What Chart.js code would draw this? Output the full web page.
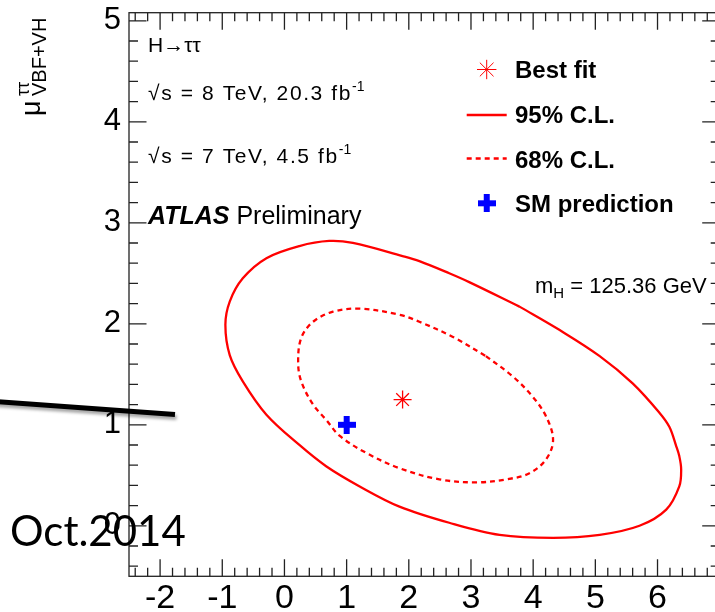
<!DOCTYPE html>
<html>
<head>
<meta charset="utf-8">
<script src="https://cdn.jsdelivr.net/npm/chart.js@4.4.1/dist/chart.umd.min.js"></script>
<style>
  html, body { margin: 0; padding: 0; background: #fff; overflow: hidden; }
  #wrap { position: relative; width: 715px; height: 612px; overflow: hidden; }
  #plot { position: absolute; left: 0; top: 0; }
  #pen { position: absolute; left: 0; top: 0; }
  #stamp { position: absolute; left: 10px; top: 509px; font-family: Lato, "Open Sans", sans-serif;
           font-size: 42px; line-height: 1; color: #000; white-space: nowrap; }
</style>
</head>
<body>
<div id="wrap">
  <canvas id="plot" width="730" height="612"></canvas>
  <svg id="pen" width="715" height="612">
    <defs>
      <filter id="soft" x="-10%" y="-200%" width="120%" height="500%">
        <feDropShadow dx="1.5" dy="3" stdDeviation="1.8" flood-color="#000" flood-opacity="0.35"/>
      </filter>
    </defs>
    <line x1="-5" y1="401.5" x2="175" y2="414.5" stroke="#000" stroke-width="5" filter="url(#soft)"/>
  </svg>
  <div id="stamp">Oct.2014</div>
</div>
<script>
// mu(VBF+VH) vs mu(ggF+ttH) likelihood contours, H -> tau tau
const xTicks = [-2, -1, 0, 1, 2, 3, 4, 5, 6];
const yTicks = [0, 1, 2, 3, 4, 5];

// 95% C.L. contour (closed loop)
const cl95X = [3.78, 4.42, 5.07, 5.60, 6.03, 6.19, 6.30, 6.35, 6.38, 6.35, 6.14, 5.71, 5.07, 4.32, 3.46, 2.65, 1.85, 1.21, 0.67, 0.24, -0.29, -0.67, -0.88, -0.95, -0.88, -0.67, -0.29, 0.24, 0.72, 1.10, 1.90, 2.17, 2.65, 2.98, 3.78];
const cl95Y = [2.17, 1.94, 1.68, 1.41, 1.12, 0.98, 0.79, 0.69, 0.56, 0.39, 0.16, 0.00, -0.09, -0.12, -0.09, 0.03, 0.19, 0.39, 0.59, 0.80, 1.10, 1.43, 1.69, 1.99, 2.22, 2.45, 2.65, 2.77, 2.82, 2.80, 2.67, 2.62, 2.50, 2.41, 2.17];

// 68% C.L. contour (closed loop)
const cl68X = [3.24, 3.67, 3.99, 4.21, 4.32, 4.21, 3.94, 3.57, 3.08, 2.49, 1.85, 1.32, 0.89, 0.67, 0.46, 0.27, 0.22, 0.27, 0.46, 0.78, 1.21, 1.85, 2.17, 2.71, 3.24];
const cl68Y = [1.68, 1.48, 1.28, 1.08, 0.85, 0.66, 0.52, 0.46, 0.43, 0.46, 0.57, 0.72, 0.89, 1.05, 1.20, 1.43, 1.62, 1.86, 2.02, 2.12, 2.15, 2.09, 2.02, 1.87, 1.68];

const bestFitX = [1.9];
const bestFitY = [1.25];
const smX = [1.0];
const smY = [1.0];

const pts = (xs, ys) => xs.map((v, i) => ({ x: v, y: ys[i] }));

const RED = '#ff0000';
const BLUE = '#0000ff';
const SANS = '"Liberation Sans", Arial, Helvetica, sans-serif';

// thick plus used as the SM marker
function makePlus(size, arm, color) {
  const c = document.createElement('canvas');
  c.width = size; c.height = size;
  const g = c.getContext('2d');
  g.fillStyle = color;
  const o = (size - arm) / 2;
  g.fillRect(o, 0, arm, size);
  g.fillRect(0, o, size, arm);
  return c;
}
const plusMark = makePlus(18, 6, BLUE);

// inside-pointing ticks on all four sides plus the frame
const framePlugin = {
  id: 'frame',
  afterDatasetsDraw(chart) {
    const { ctx, chartArea: a, scales: { x, y } } = chart;
    ctx.save();
    ctx.strokeStyle = '#222';
    ctx.lineWidth = 1.3;
    ctx.strokeRect(a.left, a.top, a.right - a.left, a.bottom - a.top);
    ctx.beginPath();
    for (let i = Math.ceil(x.min * 5); i <= Math.floor(x.max * 5); i++) {
      const p = x.getPixelForValue(i / 5);
      const len = (i % 5 === 0) ? 17 : 8.5;
      ctx.moveTo(p, a.bottom); ctx.lineTo(p, a.bottom - len);
      ctx.moveTo(p, a.top); ctx.lineTo(p, a.top + len);
    }
    for (let i = Math.ceil(y.min * 5); i <= Math.floor(y.max * 5); i++) {
      const p = y.getPixelForValue(i / 5);
      const len = (i % 5 === 0) ? 17.5 : 9;
      ctx.moveTo(a.left, p); ctx.lineTo(a.left + len, p);
      ctx.moveTo(a.right, p); ctx.lineTo(a.right - len, p);
    }
    ctx.stroke();
    ctx.restore();
  }
};

function rich(ctx, x, y, parts) {
  let cx = x;
  for (const [t, font, dy, sp] of parts) {
    ctx.font = font;
    ctx.letterSpacing = sp || '0px';
    ctx.fillText(t, cx, y + (dy || 0));
    cx += ctx.measureText(t).width;
  }
  ctx.letterSpacing = '0px';
}

// legend and labels
const textPlugin = {
  id: 'labels',
  afterDraw(chart) {
    const ctx = chart.ctx;
    ctx.save();
    ctx.fillStyle = '#000';
    ctx.textBaseline = 'alphabetic';
    ctx.textAlign = 'left';

    const f21 = '21px ' + SANS, f14 = '14px ' + SANS;
    rich(ctx, 148, 52, [['H\u2192\u03C4\u03C4', f21]]);
    rich(ctx, 148, 100, [['\u221As = 8 TeV, 20.3 fb', f21, 0, '1.6px'], ['-1', f14, -9]]);
    rich(ctx, 148, 163, [['\u221As = 7 TeV, 4.5 fb', f21, 0, '1.6px'], ['-1', f14, -9]]);
    rich(ctx, 148, 224, [['ATLAS', 'italic bold 25px ' + SANS], [' Preliminary', '25px ' + SANS]]);
    rich(ctx, 535, 293, [['m', '22px ' + SANS], ['H', '15px ' + SANS, 5], [' = 125.36 GeV', '22px ' + SANS]]);

    // legend
    const ds = chart.data.datasets;
    const rows = [
      { d: ds[0], mark: 69.5, base: 78.3 },
      { d: ds[1], mark: 115, base: 123.3 },
      { d: ds[2], mark: 158.5, base: 168.3 },
      { d: ds[3], mark: 203.3, base: 211.7 }
    ];
    const mx = 486.7;
    for (const r of rows) {
      const d = r.d;
      if (d.showLine) {
        ctx.save();
        ctx.strokeStyle = d.borderColor;
        ctx.lineWidth = d.borderWidth;
        ctx.setLineDash(d.borderDash || []);
        ctx.beginPath();
        ctx.moveTo(mx - 20, r.mark); ctx.lineTo(mx + 20, r.mark);
        ctx.stroke();
        ctx.restore();
      } else {
        ctx.strokeStyle = d.borderColor;
        ctx.fillStyle = d.backgroundColor;
        Chart.helpers.drawPoint(ctx, {
          pointStyle: d.pointStyle, radius: d.pointRadius + 0.7, rotation: 0,
          borderWidth: d.borderWidth
        }, mx, r.mark);
      }
      ctx.fillStyle = '#000';
      ctx.font = 'bold 24px ' + SANS;
      ctx.fillText(d.label, 515, r.base);
    }

    // y axis title, rotated
    ctx.save();
    ctx.rotate(-Math.PI / 2);
    ctx.fillStyle = '#000';
    ctx.font = '27px ' + SANS;
    ctx.fillText('\u03BC', -116, 40);
    ctx.font = '18px ' + SANS;
    ctx.fillText('\u03C4\u03C4', -96, 29);
    ctx.font = '20px ' + SANS;
    ctx.fillText('VBF+VH', -96, 46);
    ctx.restore();

    ctx.restore();
  }
};

new Chart(document.getElementById('plot'), {
  type: 'scatter',
  data: {
    datasets: [
      { label: 'Best fit', data: pts(bestFitX, bestFitY), pointStyle: 'star', pointRadius: 9,
        borderColor: RED, backgroundColor: RED, borderWidth: 1.3, order: 0 },
      { label: '95% C.L.', data: pts(cl95X, cl95Y), showLine: true, tension: 0.35,
        borderColor: RED, borderWidth: 2.3, pointRadius: 0, fill: false, order: 1 },
      { label: '68% C.L.', data: pts(cl68X, cl68Y), showLine: true, tension: 0.35,
        borderColor: RED, borderWidth: 2.3, borderDash: [5, 4], pointRadius: 0, fill: false, order: 1 },
      { label: 'SM prediction', data: pts(smX, smY), pointStyle: plusMark, pointRadius: 9,
        borderColor: BLUE, backgroundColor: BLUE, borderWidth: 0, order: 0 }
    ]
  },
  options: {
    responsive: false,
    animation: false,
    events: [],
    layout: { padding: { top: 12.7, right: 9.5, left: 0, bottom: 0 } },
    plugins: { legend: { display: false }, tooltip: { enabled: false } },
    scales: {
      x: {
        type: 'linear', min: -2.5, max: 7,
        grid: { display: false, drawTicks: false },
        border: { display: false },
        afterBuildTicks: s => { s.ticks = xTicks.map(v => ({ value: v })); },
        afterFit: s => { s.height = 35.7; s.paddingLeft = 0; s.paddingRight = 0; },
        ticks: { color: '#000', font: { family: SANS, size: 34 }, padding: 2,
                 maxRotation: 0, autoSkip: false }
      },
      y: {
        type: 'linear', min: -0.5, max: 5.08,
        grid: { display: false, drawTicks: false },
        border: { display: false },
        afterBuildTicks: s => { s.ticks = yTicks.map(v => ({ value: v })); },
        afterFit: s => { s.width = 129; s.paddingTop = 0; s.paddingBottom = 0; },
        ticks: { color: '#000', font: { family: SANS, size: 31 }, padding: 8, autoSkip: false }
      }
    }
  },
  plugins: [framePlugin, textPlugin]
});
</script>
</body>
</html>
